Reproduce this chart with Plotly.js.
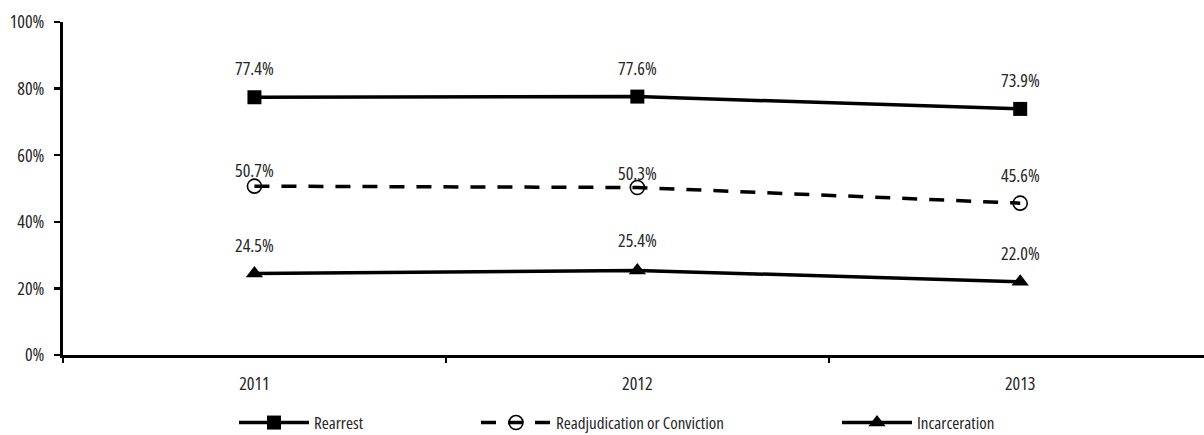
<!DOCTYPE html>
<html>
<head>
<meta charset="utf-8">
<script src="https://cdn.plot.ly/plotly-3.0.1.min.js"></script>
<style>
html,body{margin:0;padding:0;background:#fff;}
#chart{width:1204px;height:435px;}
text{font-stretch:condensed !important;}
</style>
</head>
<body>
<div id="chart"></div>
<script>
const years = ["2011", "2012", "2013"];
const seriesNames = ["Rearrest", "Readjudication or Conviction", "Incarceration"];
const rearrest = [77.4, 77.6, 73.9];
const readjudication = [50.7, 50.3, 45.6];
const incarceration = [24.5, 25.4, 22.0];
const yTickVals = [0, 20, 40, 60, 80, 100];
const yTickText = ["0%", "20%", "40%", "60%", "80%", "100%"];

const FONT = "'Open Sans', 'Roboto Condensed', sans-serif";
const TXT = "#262626";

const seriesValues = [rearrest, readjudication, incarceration];
const styles = [
  {dash: "solid", symbol: "square", fill: "#000", size: 14, lw: 0, legend: "legend", lx: 234},
  {dash: "15px,12px", symbol: "circle-open", fill: "rgba(0,0,0,0)", size: 14, lw: 1.6, legend: "legend2", lx: 476},
  {dash: "solid", symbol: "triangle-up", fill: "#000", size: 15, lw: 0, legend: "legend3", lx: 837}
];
const labelShift = [[29, 29, 29], [16, 15, 28], [28, 30, 29]];

const traces = seriesValues.map((vals, i) => ({
  type: "scatter",
  mode: "lines+markers",
  name: seriesNames[i],
  x: [0, 1, 2],
  y: vals,
  legend: styles[i].legend,
  line: {color: "#000", width: 3.5, dash: styles[i].dash},
  marker: {
    symbol: styles[i].symbol,
    size: styles[i].size,
    color: styles[i].symbol === "circle-open" ? "#000" : styles[i].fill,
    line: {color: "#000", width: styles[i].symbol === "circle-open" ? styles[i].lw : 0}
  },
  hoverinfo: "skip"
}));

const annotations = [];
seriesValues.forEach((vals, i) => {
  vals.forEach((v, j) => {
    annotations.push({
      x: j, y: v, xref: "x", yref: "y",
      text: v.toFixed(1) + "%",
      showarrow: false,
      yshift: labelShift[i][j],
      font: {family: FONT, size: 18, color: TXT}
    });
  });
});

function legendCfg(px) {
  return {
    orientation: "h",
    xref: "container", yref: "container",
    x: px / 1204, y: 12 / 435,
    xanchor: "left", yanchor: "middle",
    bgcolor: "rgba(0,0,0,0)",
    font: {family: FONT, size: 17, color: TXT},
    itemwidth: 70
  };
}

const layout = {
  width: 1204, height: 435,
  margin: {l: 63, r: 0, t: 22, b: 80},
  paper_bgcolor: "#fff", plot_bgcolor: "#fff",
  showlegend: true,
  font: {family: FONT, size: 18, color: TXT},
  xaxis: {
    type: "linear",
    range: [-0.5, 2.48],
    tickvals: [0, 1, 2], ticktext: years,
    ticks: "", showline: true, linecolor: "#000", linewidth: 3,
    showgrid: false, zeroline: false,
    ticklabelstandoff: 10,
    tickfont: {family: FONT, size: 18, color: TXT}
  },
  xaxis2: {
    overlaying: "x", matches: "x", side: "bottom", anchor: "y",
    tickvals: [-0.5, 0.5, 1.5], showticklabels: false,
    ticks: "outside", ticklen: 7, tickwidth: 2.5, tickcolor: "#000",
    showline: false, showgrid: false, zeroline: false
  },
  yaxis: {
    range: [0, 100],
    tickvals: yTickVals, ticktext: yTickText,
    ticks: "outside", ticklen: 6, tickwidth: 2.5, tickcolor: "#000",
    showline: true, linecolor: "#000", linewidth: 3,
    showgrid: false, zeroline: false,
    ticklabelstandoff: 6,
    tickfont: {family: FONT, size: 18, color: TXT}
  },
  legend: legendCfg(styles[0].lx),
  legend2: legendCfg(styles[1].lx),
  legend3: legendCfg(styles[2].lx),
  annotations: annotations
};

// invisible carrier so the boundary-tick axis is drawn
traces.push({type: "scatter", x: [], y: [], xaxis: "x2", yaxis: "y", showlegend: false, hoverinfo: "skip"});

Plotly.newPlot("chart", traces, layout, {displayModeBar: false, staticPlot: true});
</script>
</body>
</html>
